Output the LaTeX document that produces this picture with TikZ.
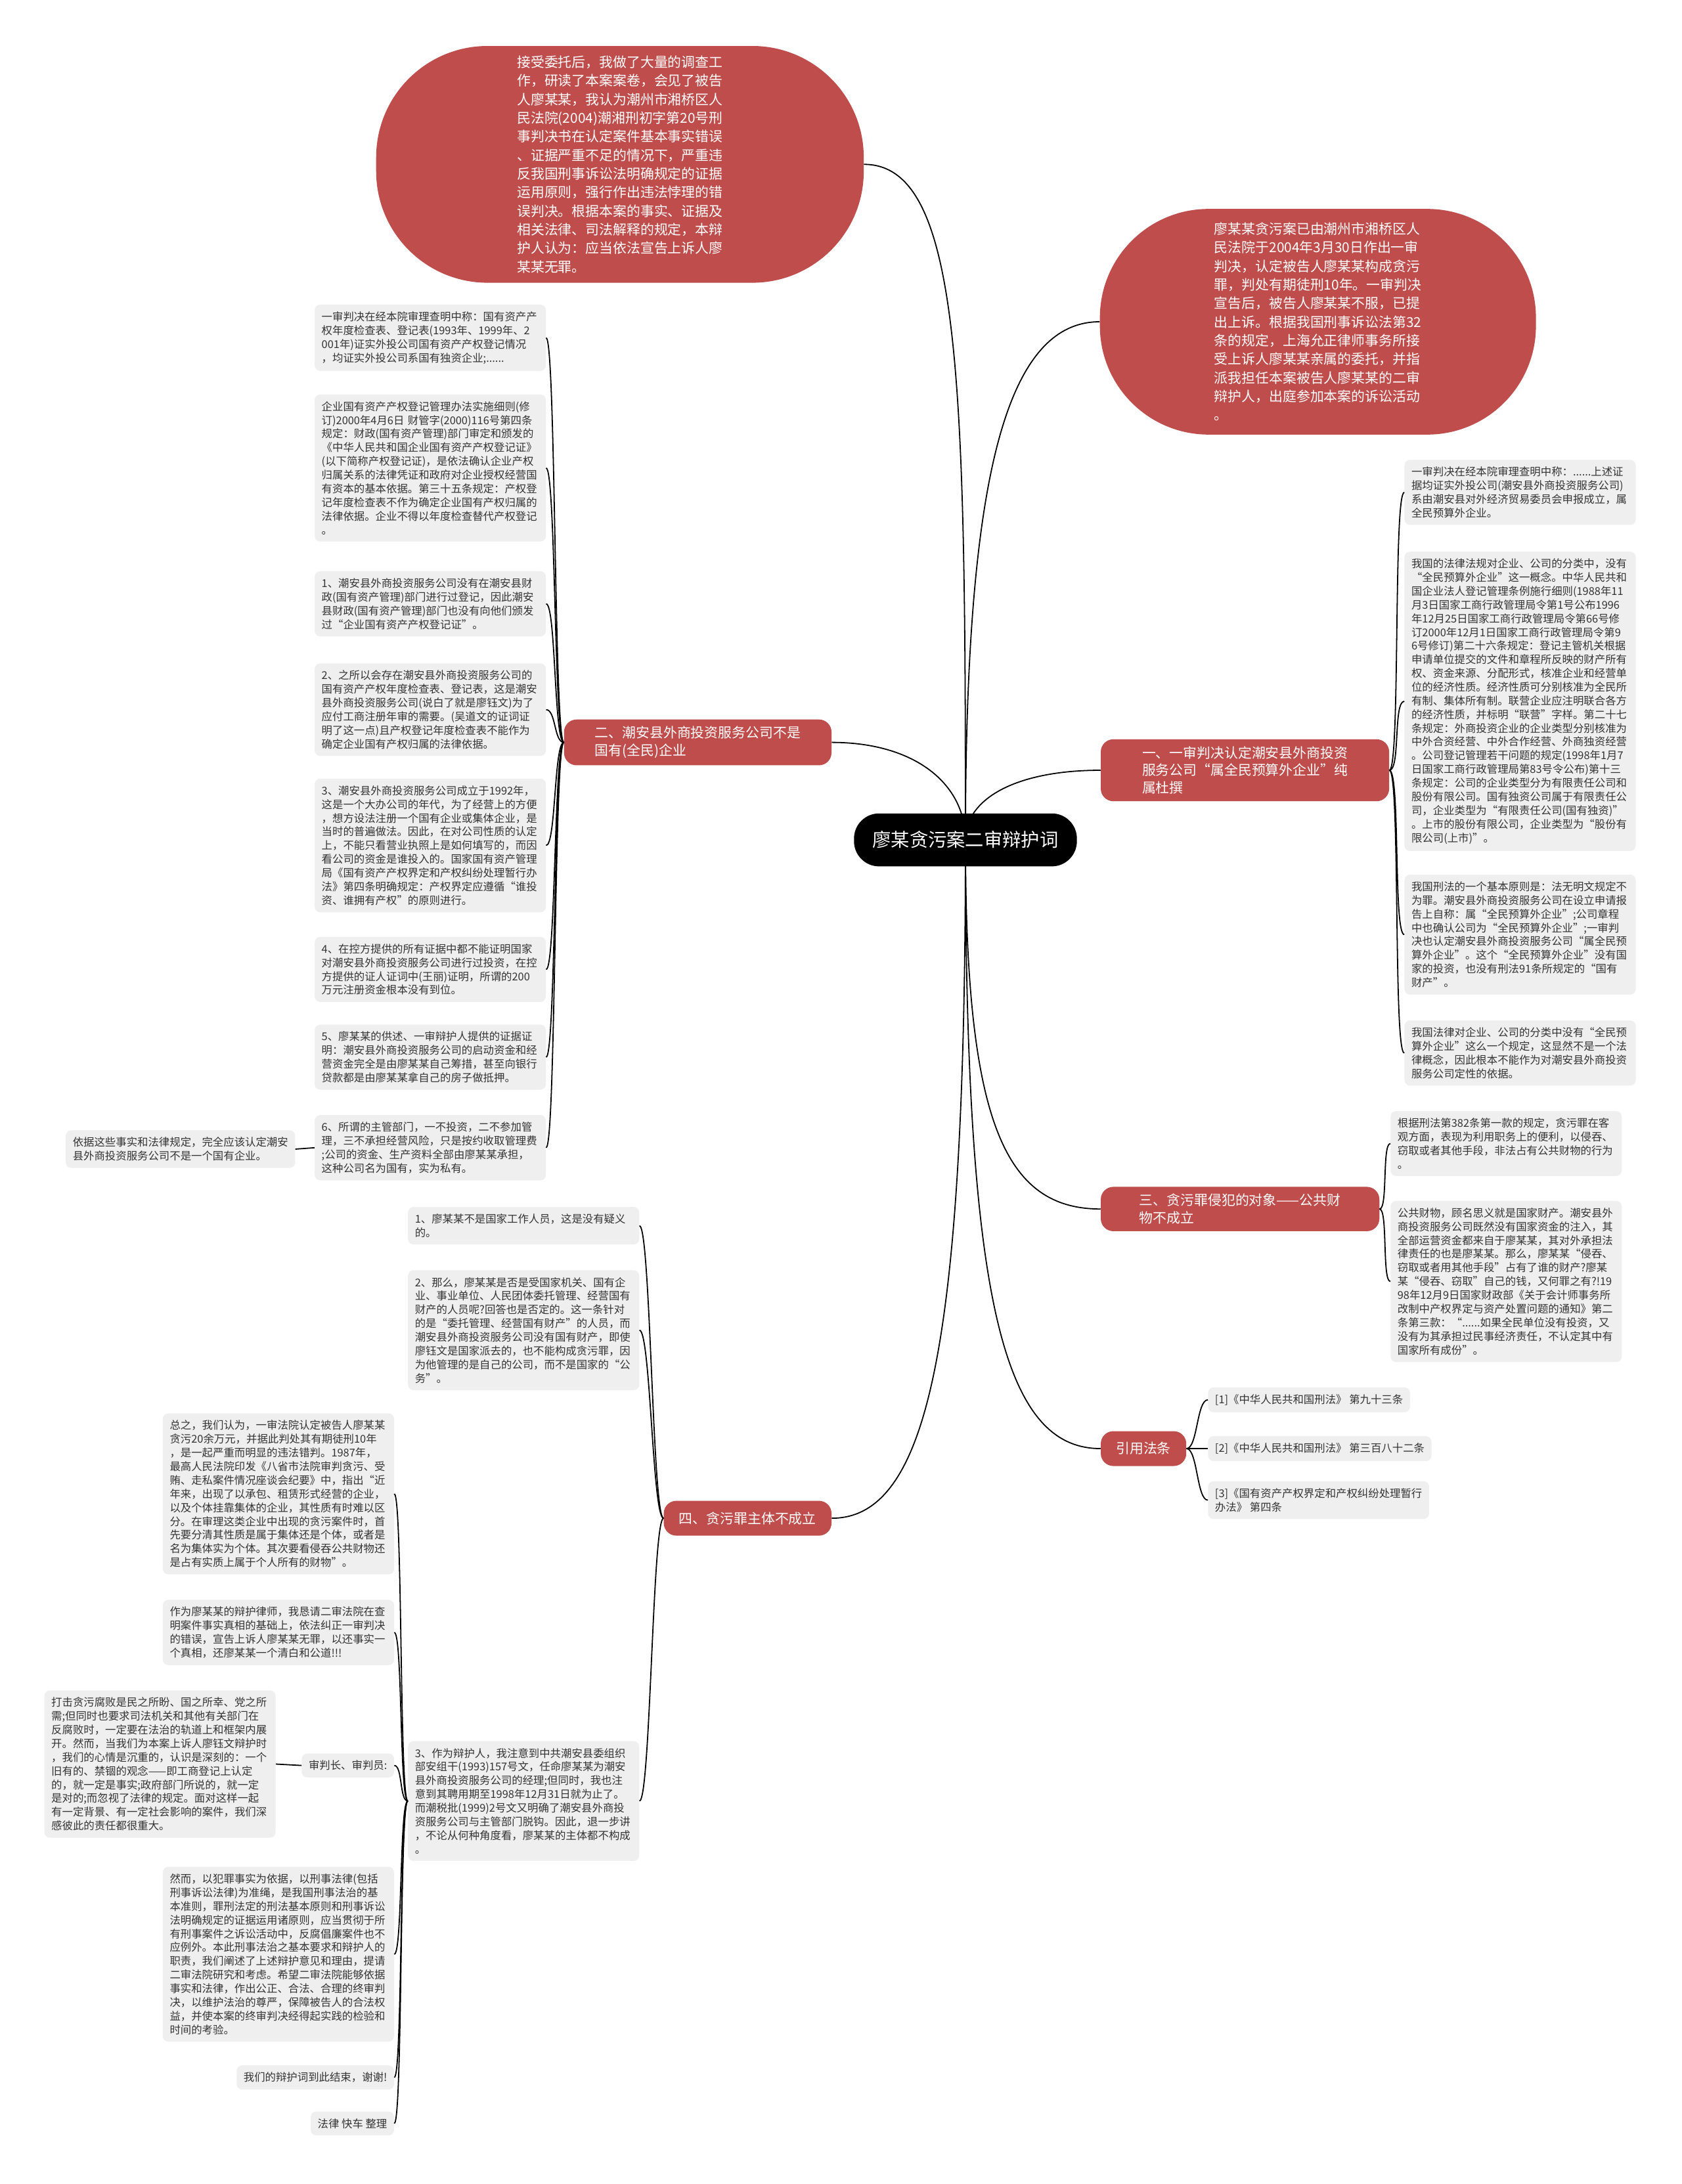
\documentclass[tikz,border=0pt]{standalone}
\usepackage{fontspec}
\setmainfont{Noto Sans CJK SC}
\usepackage{tikz}
\usetikzlibrary{backgrounds}
\definecolor{mapred}{HTML}{BE4D4B}
\definecolor{leafgray}{HTML}{EFEFEF}
\definecolor{leaftext}{HTML}{333333}
\tikzset{
    leafbox/.style={fill=leafgray, rounded corners=0.2cm, align=left, text=leaftext,
        font={\fontsize{11}{14}\selectfont}, inner xsep=0.25cm, inner ysep=0.25cm},
    link/.style={line width=1.2pt, black}
}
\begin{document}
\begin{tikzpicture}[
    x=0.05cm, y=-0.05cm,
    wideleaf/.style={leafbox, text width=7.8cm},
    branchbox/.style={fill=mapred, text=white, rounded corners=0.45cm, align=left,
        font={\fontsize{14}{18}\selectfont}, inner xsep=0.55cm, inner ysep=0.25cm,
        minimum height=1.25cm},
    bubble/.style={fill=mapred, text=white, align=left,
        font={\fontsize{14}{19}\selectfont}, inner sep=0pt}
]
\useasboundingbox (0,0) rectangle (1207,1568);

\node[fill=black, text=white, rounded corners=0.9cm, minimum width=8cm, minimum height=1.9cm,
    font={\fontsize{19}{23}\selectfont}] (root) at (693,603) {廖某贪污案二审辩护词};

\node[bubble, rounded corners=4cm, minimum width=17.5cm, minimum height=8.5cm] (intro) at (445,118) {接受委托后，我做了大量的调查工\\
作，研读了本案案卷，会见了被告\\
人廖某某，我认为潮州市湘桥区人\\
民法院(2004)潮湘刑初字第20号刑\\
事判决书在认定案件基本事实错误\\
、证据严重不足的情况下，严重违\\
反我国刑事诉讼法明确规定的证据\\
运用原则，强行作出违法悖理的错\\
误判决。根据本案的事实、证据及\\
相关法律、司法解释的规定，本辩\\
护人认为：应当依法宣告上诉人廖\\
某某无罪。};
\node[bubble, rounded corners=3.9cm, minimum width=15.65cm, minimum height=8.1cm] (brief) at (946,231) {廖某某贪污案已由潮州市湘桥区人\\
民法院于2004年3月30日作出一审\\
判决，认定被告人廖某某构成贪污\\
罪，判处有期徒刑10年。一审判决\\
宣告后，被告人廖某某不服，已提\\
出上诉。根据我国刑事诉讼法第32\\
条的规定，上海允正律师事务所接\\
受上诉人廖某某亲属的委托，并指\\
派我担任本案被告人廖某某的二审\\
辩护人，出庭参加本案的诉讼活动\\
。};

\node[branchbox, minimum width=10.35cm, anchor=west] (b1) at (790,553) {一、一审判决认定潮安县外商投资\\
服务公司“属全民预算外企业”纯\\
属杜撰};
\node[branchbox, minimum width=9.6cm, anchor=east] (b2) at (597,533) {二、潮安县外商投资服务公司不是\\
国有(全民)企业};
\node[branchbox, minimum width=10cm, anchor=west] (b3) at (790,868) {三、贪污罪侵犯的对象——公共财\\
物不成立};
\node[branchbox, anchor=west] (b5) at (790,1040) {引用法条};
\node[branchbox, anchor=east] (b4) at (597,1090) {四、贪污罪主体不成立};

\node[wideleaf, anchor=west] (r1) at (1008,353.5) {一审判决在经本院审理查明中称：......上述证\\
据均证实外投公司(潮安县外商投资服务公司)\\
系由潮安县对外经济贸易委员会申报成立，属\\
全民预算外企业。};
\node[wideleaf, anchor=west] (r2) at (1008,503.5) {我国的法律法规对企业、公司的分类中，没有\\
“全民预算外企业”这一概念。中华人民共和\\
国企业法人登记管理条例施行细则(1988年11\\
月3日国家工商行政管理局令第1号公布1996\\
年12月25日国家工商行政管理局令第66号修\\
订2000年12月1日国家工商行政管理局令第9\\
6号修订)第二十六条规定：登记主管机关根据\\
申请单位提交的文件和章程所反映的财产所有\\
权、资金来源、分配形式，核准企业和经营单\\
位的经济性质。经济性质可分别核准为全民所\\
有制、集体所有制。联营企业应注明联合各方\\
的经济性质，并标明“联营”字样。第二十七\\
条规定：外商投资企业的企业类型分别核准为\\
中外合资经营、中外合作经营、外商独资经营\\
。公司登记管理若干问题的规定(1998年1月7\\
日国家工商行政管理局第83号令公布)第十三\\
条规定：公司的企业类型分为有限责任公司和\\
股份有限公司。国有独资公司属于有限责任公\\
司，企业类型为“有限责任公司(国有独资)”\\
。上市的股份有限公司，企业类型为“股份有\\
限公司(上市)”。};
\node[wideleaf, anchor=west] (r3) at (1008,671) {我国刑法的一个基本原则是：法无明文规定不\\
为罪。潮安县外商投资服务公司在设立申请报\\
告上自称：属“全民预算外企业”;公司章程\\
中也确认公司为“全民预算外企业”;一审判\\
决也认定潮安县外商投资服务公司“属全民预\\
算外企业”。这个“全民预算外企业”没有国\\
家的投资，也没有刑法91条所规定的“国有\\
财产”。};
\node[wideleaf, anchor=west] (r4) at (1008,756) {我国法律对企业、公司的分类中没有“全民预\\
算外企业”这么一个规定，这显然不是一个法\\
律概念，因此根本不能作为对潮安县外商投资\\
服务公司定性的依据。};

\node[wideleaf, anchor=west] (t1) at (998,821) {根据刑法第382条第一款的规定，贪污罪在客\\
观方面，表现为利用职务上的便利，以侵吞、\\
窃取或者其他手段，非法占有公共财物的行为\\
。};
\node[wideleaf, anchor=west] (t2) at (998,920) {公共财物，顾名思义就是国家财产。潮安县外\\
商投资服务公司既然没有国家资金的注入，其\\
全部运营资金都来自于廖某某，其对外承担法\\
律责任的也是廖某某。那么，廖某某“侵吞、\\
窃取或者用其他手段”占有了谁的财产?廖某\\
某“侵吞、窃取”自己的钱，又何罪之有?!19\\
98年12月9日国家财政部《关于会计师事务所\\
改制中产权界定与资产处置问题的通知》第二\\
条第三款：“......如果全民单位没有投资，又\\
没有为其承担过民事经济责任，不认定其中有\\
国家所有成份”。};

\node[leafbox, anchor=west] (l1) at (867,1005) {[1]《中华人民共和国刑法》 第九十三条};
\node[leafbox, anchor=west] (l2) at (867,1040) {[2]《中华人民共和国刑法》 第三百八十二条};
\node[leafbox, anchor=west] (l3) at (867,1077) {[3]《国有资产产权界定和产权纠纷处理暂行\\
办法》 第四条};

\node[wideleaf, anchor=east] (s1) at (392,242.5) {一审判决在经本院审理查明中称：国有资产产\\
权年度检查表、登记表(1993年、1999年、2\\
001年)证实外投公司国有资产产权登记情况\\
，均证实外投公司系国有独资企业;......};
\node[wideleaf, anchor=east] (s2) at (392,336) {企业国有资产产权登记管理办法实施细则(修\\
订)2000年4月6日 财管字(2000)116号第四条\\
规定：财政(国有资产管理)部门审定和颁发的\\
《中华人民共和国企业国有资产产权登记证》\\
(以下简称产权登记证)，是依法确认企业产权\\
归属关系的法律凭证和政府对企业授权经营国\\
有资本的基本依据。第三十五条规定：产权登\\
记年度检查表不作为确定企业国有产权归属的\\
法律依据。企业不得以年度检查替代产权登记\\
。};
\node[wideleaf, anchor=east] (s3) at (392,433.5) {1、潮安县外商投资服务公司没有在潮安县财\\
政(国有资产管理)部门进行过登记，因此潮安\\
县财政(国有资产管理)部门也没有向他们颁发\\
过“企业国有资产产权登记证”。};
\node[wideleaf, anchor=east] (s4) at (392,509.5) {2、之所以会存在潮安县外商投资服务公司的\\
国有资产产权年度检查表、登记表，这是潮安\\
县外商投资服务公司(说白了就是廖钰文)为了\\
应付工商注册年审的需要。(吴道文的证词证\\
明了这一点)且产权登记年度检查表不能作为\\
确定企业国有产权归属的法律依据。};
\node[wideleaf, anchor=east] (s5) at (392,607) {3、潮安县外商投资服务公司成立于1992年，\\
这是一个大办公司的年代，为了经营上的方便\\
，想方设法注册一个国有企业或集体企业，是\\
当时的普遍做法。因此，在对公司性质的认定\\
上，不能只看营业执照上是如何填写的，而因\\
看公司的资金是谁投入的。国家国有资产管理\\
局《国有资产产权界定和产权纠纷处理暂行办\\
法》第四条明确规定：产权界定应遵循“谁投\\
资、谁拥有产权”的原则进行。};
\node[wideleaf, anchor=east] (s6) at (392,696) {4、在控方提供的所有证据中都不能证明国家\\
对潮安县外商投资服务公司进行过投资，在控\\
方提供的证人证词中(王丽)证明，所谓的200\\
万元注册资金根本没有到位。};
\node[wideleaf, anchor=east] (s7) at (392,759) {5、廖某某的供述、一审辩护人提供的证据证\\
明：潮安县外商投资服务公司的启动资金和经\\
营资金完全是由廖某某自己筹措，甚至向银行\\
贷款都是由廖某某拿自己的房子做抵押。};
\node[wideleaf, anchor=east] (s8) at (392,824) {6、所谓的主管部门，一不投资，二不参加管\\
理，三不承担经营风险，只是按约收取管理费\\
;公司的资金、生产资料全部由廖某某承担，\\
这种公司名为国有，实为私有。};
\node[leafbox, anchor=east] (s8c) at (212,825) {依据这些事实和法律规定，完全应该认定潮安\\
县外商投资服务公司不是一个国有企业。};

\node[wideleaf, anchor=east] (f1) at (459,880) {1、廖某某不是国家工作人员，这是没有疑义\\
的。};
\node[wideleaf, anchor=east] (f2) at (459,955) {2、那么，廖某某是否是受国家机关、国有企\\
业、事业单位、人民团体委托管理、经营国有\\
财产的人员呢?回答也是否定的。这一条针对\\
的是“委托管理、经营国有财产”的人员，而\\
潮安县外商投资服务公司没有国有财产，即使\\
廖钰文是国家派去的，也不能构成贪污罪，因\\
为他管理的是自己的公司，而不是国家的“公\\
务”。};
\node[wideleaf, anchor=east] (f3) at (459,1293) {3、作为辩护人，我注意到中共潮安县委组织\\
部安组干(1993)157号文，任命廖某某为潮安\\
县外商投资服务公司的经理;但同时，我也注\\
意到其聘用期至1998年12月31日就为止了。\\
而潮税批(1999)2号文又明确了潮安县外商投\\
资服务公司与主管部门脱钩。因此，退一步讲\\
，不论从何种角度看，廖某某的主体都不构成\\
。};

\node[wideleaf, anchor=east] (g1) at (283,1072.5) {总之，我们认为，一审法院认定被告人廖某某\\
贪污20余万元，并据此判处其有期徒刑10年\\
，是一起严重而明显的违法错判。1987年，\\
最高人民法院印发《八省市法院审判贪污、受\\
贿、走私案件情况座谈会纪要》中，指出“近\\
年来，出现了以承包、租赁形式经营的企业，\\
以及个体挂靠集体的企业，其性质有时难以区\\
分。在审理这类企业中出现的贪污案件时，首\\
先要分清其性质是属于集体还是个体，或者是\\
名为集体实为个体。其次要看侵吞公共财物还\\
是占有实质上属于个人所有的财物”。};
\node[wideleaf, anchor=east] (g2) at (283,1172) {作为廖某某的辩护律师，我恳请二审法院在查\\
明案件事实真相的基础上，依法纠正一审判决\\
的错误，宣告上诉人廖某某无罪，以还事实一\\
个真相，还廖某某一个清白和公道!!!};
\node[leafbox, anchor=east] (g3) at (283,1267.5) {审判长、审判员:};
\node[wideleaf, anchor=east] (g4) at (283,1403) {然而，以犯罪事实为依据，以刑事法律(包括\\
刑事诉讼法律)为准绳，是我国刑事法治的基\\
本准则，罪刑法定的刑法基本原则和刑事诉讼\\
法明确规定的证据运用诸原则，应当贯彻于所\\
有刑事案件之诉讼活动中，反腐倡廉案件也不\\
应例外。本此刑事法治之基本要求和辩护人的\\
职责，我们阐述了上述辩护意见和理由，提请\\
二审法院研究和考虑。希望二审法院能够依据\\
事实和法律，作出公正、合法、合理的终审判\\
决，以维护法治的尊严，保障被告人的合法权\\
益，并使本案的终审判决经得起实践的检验和\\
时间的考验。};
\node[leafbox, anchor=east] (g5) at (283,1491.5) {我们的辩护词到此结束，谢谢!};
\node[leafbox, anchor=east] (g6) at (283,1524.5) {法律 快车 整理};
\node[wideleaf, anchor=east] (h1) at (198,1266.5) {打击贪污腐败是民之所盼、国之所幸、党之所\\
需;但同时也要求司法机关和其他有关部门在\\
反腐败时，一定要在法治的轨道上和框架内展\\
开。然而，当我们为本案上诉人廖钰文辩护时\\
，我们的心情是沉重的，认识是深刻的：一个\\
旧有的、禁锢的观念——即工商登记上认定\\
的，就一定是事实;政府部门所说的，就一定\\
是对的;而忽视了法律的规定。面对这样一起\\
有一定背景、有一定社会影响的案件，我们深\\
感彼此的责任都很重大。};

\begin{scope}[on background layer]
\fill[white] (0,0) rectangle (1207,1568);
\draw[link] (root.center) .. controls +(0,-330) and +(70,0) .. (intro.east);
\draw[link] (root.center) .. controls +(0,-250) and +(-70,0) .. (brief.west);
\draw[link] (root.center) .. controls +(0,-30) and +(-60,0) .. (b1.west);
\draw[link] (root.center) .. controls +(0,-40) and +(60,0) .. (b2.east);
\draw[link] (root.center) .. controls +(0,200) and +(-70,0) .. (b3.west);
\draw[link] (root.center) .. controls +(0,330) and +(-70,0) .. (b5.west);
\draw[link] (root.center) .. controls +(0,360) and +(70,0) .. (b4.east);
\end{scope}

\draw[link] (b1.east) .. controls +(8,0) and +(-8,0) .. (r1.west);
\draw[link] (b1.east) .. controls +(8,0) and +(-8,0) .. (r2.west);
\draw[link] (b1.east) .. controls +(8,0) and +(-8,0) .. (r3.west);
\draw[link] (b1.east) .. controls +(8,0) and +(-8,0) .. (r4.west);
\draw[link] (b3.east) .. controls +(6,0) and +(-6,0) .. (t1.west);
\draw[link] (b3.east) .. controls +(6,0) and +(-6,0) .. (t2.west);
\draw[link] (b5.east) .. controls +(8,0) and +(-8,0) .. (l1.west);
\draw[link] (b5.east) .. controls +(8,0) and +(-8,0) .. (l2.west);
\draw[link] (b5.east) .. controls +(8,0) and +(-8,0) .. (l3.west);
\draw[link] (b2.west) .. controls +(-7,0) and +(7,0) .. (s1.east);
\draw[link] (b2.west) .. controls +(-7,0) and +(7,0) .. (s2.east);
\draw[link] (b2.west) .. controls +(-7,0) and +(7,0) .. (s3.east);
\draw[link] (b2.west) .. controls +(-7,0) and +(7,0) .. (s4.east);
\draw[link] (b2.west) .. controls +(-7,0) and +(7,0) .. (s5.east);
\draw[link] (b2.west) .. controls +(-7,0) and +(7,0) .. (s6.east);
\draw[link] (b2.west) .. controls +(-7,0) and +(7,0) .. (s7.east);
\draw[link] (b2.west) .. controls +(-7,0) and +(7,0) .. (s8.east);
\draw[link] (s8.west) -- (s8c.east);
\draw[link] (b4.west) .. controls +(-8,0) and +(8,0) .. (f1.east);
\draw[link] (b4.west) .. controls +(-8,0) and +(8,0) .. (f2.east);
\draw[link] (b4.west) .. controls +(-8,0) and +(8,0) .. (f3.east);
\draw[link] (f3.west) .. controls +(-6,0) and +(6,0) .. (g1.east);
\draw[link] (f3.west) .. controls +(-6,0) and +(6,0) .. (g2.east);
\draw[link] (f3.west) .. controls +(-6,0) and +(6,0) .. (g3.east);
\draw[link] (f3.west) .. controls +(-6,0) and +(6,0) .. (g4.east);
\draw[link] (f3.west) .. controls +(-6,0) and +(6,0) .. (g5.east);
\draw[link] (f3.west) .. controls +(-6,0) and +(6,0) .. (g6.east);
\draw[link] (g3.west) -- (h1.east);
\end{tikzpicture}
\end{document}
